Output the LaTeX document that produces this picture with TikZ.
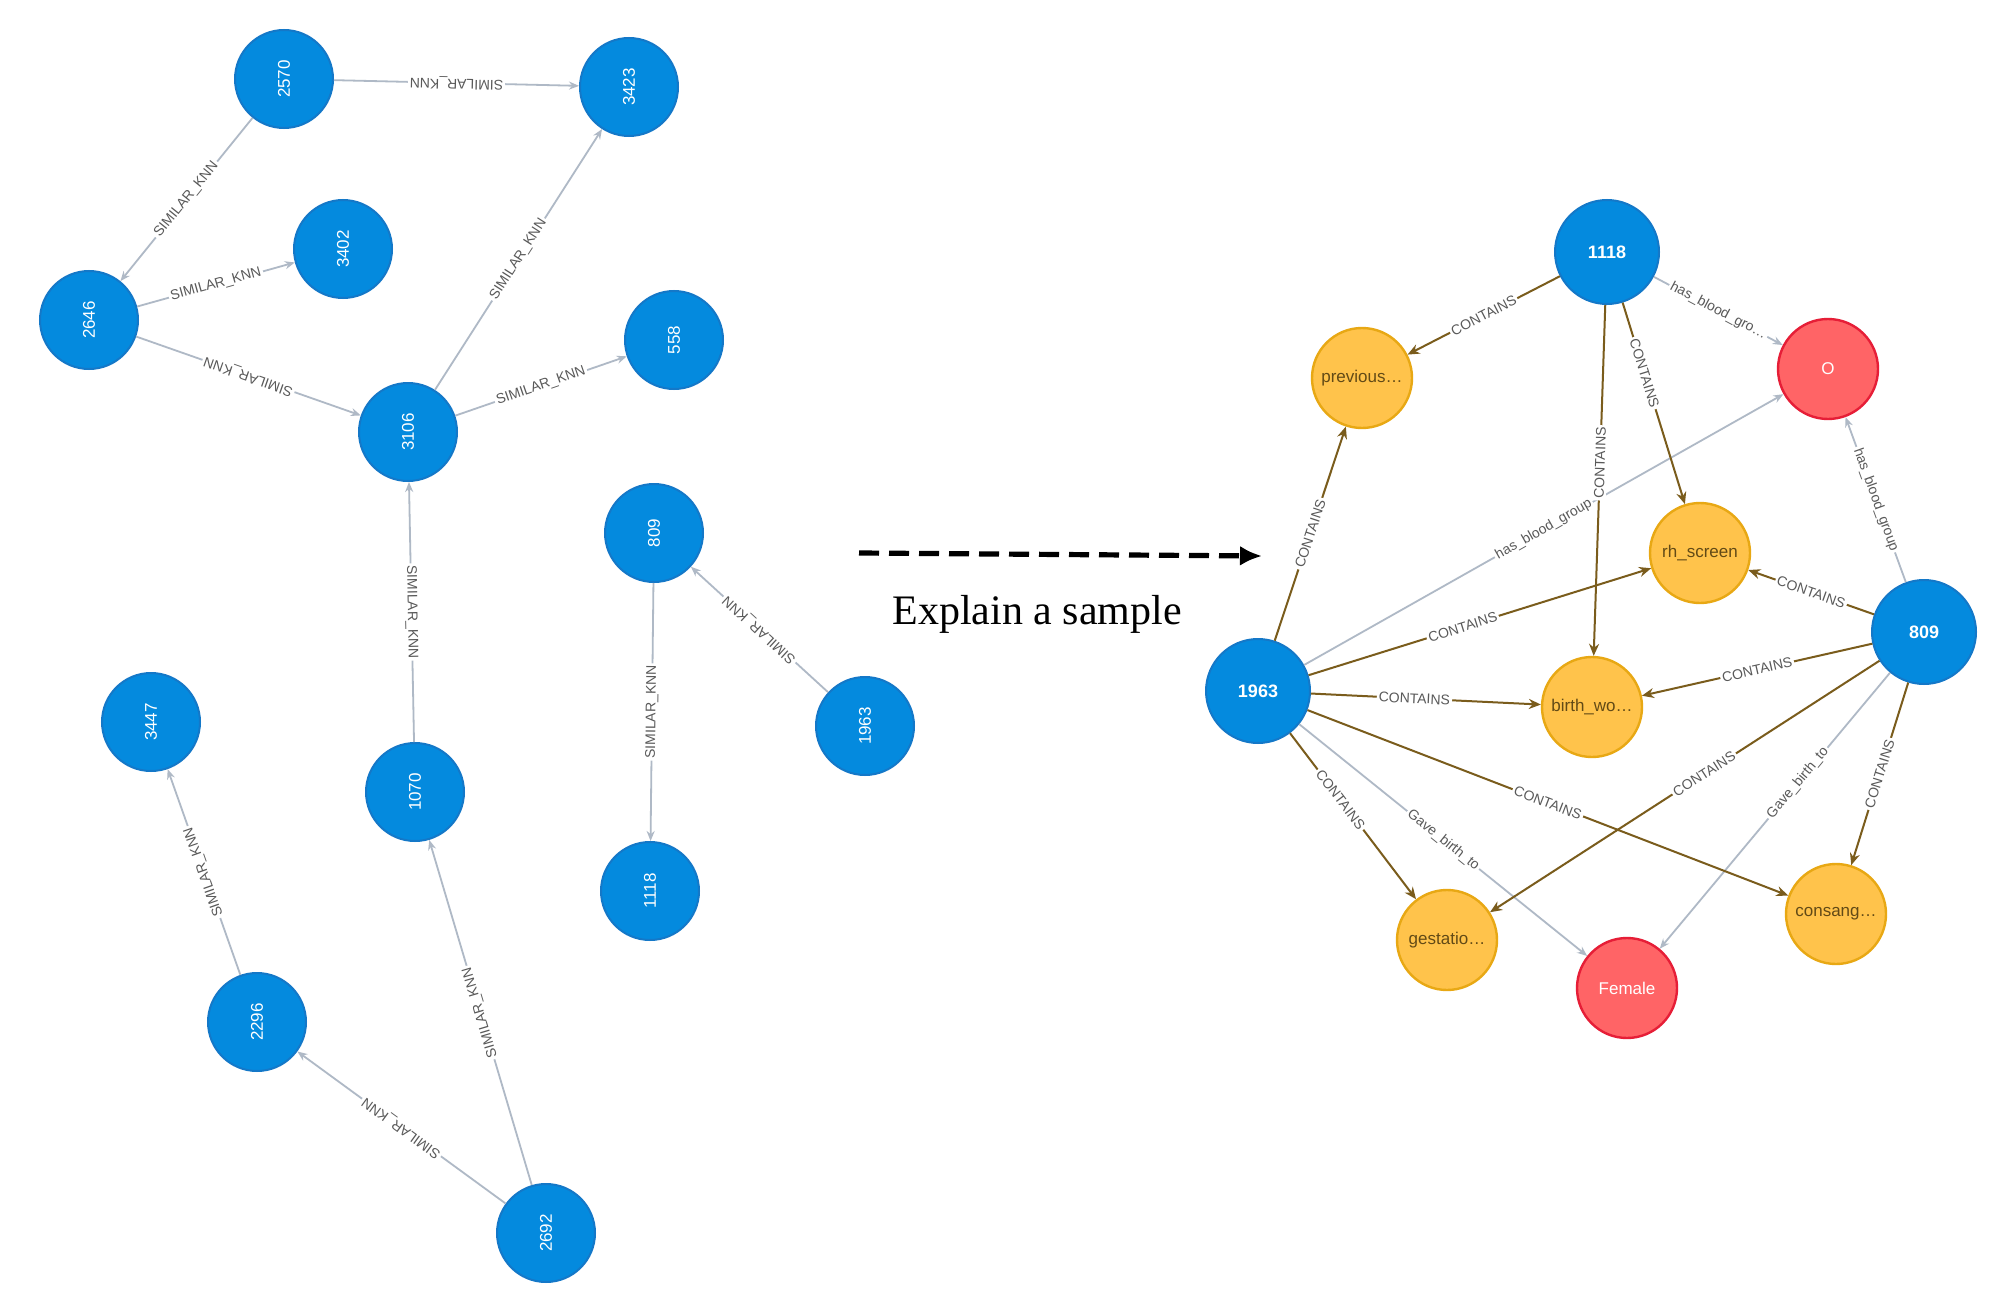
\documentclass[tikz,border=0pt]{standalone}
\usepackage{fontspec}
\setmainfont{Liberation Serif}
\newfontfamily\sfx{Liberation Sans}
\usetikzlibrary{arrows.meta}
\definecolor{nblue}{RGB}{4,138,222}
\definecolor{nbord}{RGB}{20,120,200}
\definecolor{ofill}{RGB}{255,195,75}
\definecolor{obord}{RGB}{232,168,20}
\definecolor{rfill}{RGB}{255,100,102}
\definecolor{rbord}{RGB}{230,30,55}
\definecolor{brn}{RGB}{122,92,28}
\definecolor{gry}{RGB}{175,185,198}
\begin{document}
\begin{tikzpicture}[x=0.5pt,y=-0.5pt,
 L/.style={circle,fill=nblue,draw=nbord,line width=1pt,minimum size=49pt,inner sep=0pt,text=white,font=\sfx\fontsize{8.5}{9}\selectfont,rotate=90},
 B/.style={circle,fill=nblue,draw=nbord,line width=1pt,minimum size=52pt,inner sep=0pt,text=white,font=\sfx\bfseries\fontsize{9}{10}\selectfont},
 O/.style={circle,fill=ofill,draw=obord,line width=1.2pt,minimum size=50pt,inner sep=0pt,text=brn!80!black,font=\sfx\fontsize{8.5}{9}\selectfont},
 R/.style={circle,fill=rfill,draw=rbord,line width=1.2pt,minimum size=50pt,inner sep=0pt,text=white,font=\sfx\fontsize{8.5}{9}\selectfont},
 ge/.style={draw=gry,line width=0.9pt,-{Stealth[length=5pt,width=4pt]}},
 be/.style={draw=brn,line width=1pt,-{Stealth[length=6pt,width=5pt]}},
 lb/.style={fill=white,inner sep=1pt,text=black!65,font=\sfx\fontsize{7}{8}\selectfont,sloped},
 ub/.style={lb,rotate=180}]
\useasboundingbox (0,0) rectangle (1993,1295);
\fill[white] (0,0) rectangle (1993,1295);
% left graph
\node[L] (a2570) at (284,79) {2570};
\node[L] (a3423) at (629,87) {3423};
\node[L] (a3402) at (343,249) {3402};
\node[L] (a2646) at (89,320) {2646};
\node[L] (a558) at (674,340) {558};
\node[L] (a3106) at (408,432) {3106};
\node[L] (a809) at (654,533) {809};
\node[L] (a1963) at (865,726) {1963};
\node[L] (a3447) at (151,722) {3447};
\node[L] (a1070) at (415,792) {1070};
\node[L] (a1118) at (650,891) {1118};
\node[L] (a2296) at (257,1022) {2296};
\node[L] (a2692) at (546,1233) {2692};
\draw[ge] (a2570) -- node[ub]{SIMILAR\_KNN} (a3423);
\draw[ge] (a2570) -- node[lb]{SIMILAR\_KNN} (a2646);
\draw[ge] (a2646) -- node[lb]{SIMILAR\_KNN} (a3402);
\draw[ge] (a2646) -- node[ub]{SIMILAR\_KNN} (a3106);
\draw[ge] (a3106) -- node[lb]{SIMILAR\_KNN} (a3423);
\draw[ge] (a3106) -- node[lb]{SIMILAR\_KNN} (a558);
\draw[ge] (a1070) -- node[lb]{SIMILAR\_KNN} (a3106);
\draw[ge] (a809) -- node[lb]{SIMILAR\_KNN} (a1118);
\draw[ge] (a1963) -- node[ub]{SIMILAR\_KNN} (a809);
\draw[ge] (a2296) -- node[ub]{SIMILAR\_KNN} (a3447);
\draw[ge] (a2692) -- node[ub]{SIMILAR\_KNN} (a2296);
\draw[ge] (a2692) -- node[ub]{SIMILAR\_KNN} (a1070);
% middle
\coordinate (s) at (859,553);
\coordinate (t) at (1262,556);
\draw[line width=2.6pt,dash pattern=on 10pt off 5pt,-{Latex[length=11pt,width=10pt]}] (s) -- (t);
\node[font=\fontsize{21}{24}\selectfont] (ex) at (1037,614) {Explain a sample};
% right graph
\node[B] (b1118) at (1607,252) {1118};
\node[B] (b1963) at (1258,691) {1963};
\node[B] (b809) at (1924,632) {809};
\node[R] (o) at (1828,369) {O};
\node[R] (fem) at (1627,988) {Female};
\node[O] (prev) at (1362,378) {previous\ldots};
\node[O] (rh) at (1700,553) {rh\_screen};
\node[O] (bw) at (1592,707) {birth\_wo\ldots};
\node[O] (gest) at (1447,940) {gestatio\ldots};
\node[O] (cons) at (1836,914) {consang\ldots};
\draw[ge] (b1963) -- node[lb,pos=0.5]{has\_blood\_group} (o);
\draw[ge] (b1118) -- node[lb]{has\_blood\_gro\ldots} (o);
\draw[ge] (b809) -- node[lb]{has\_blood\_group} (o);
\draw[ge] (b1963) -- node[lb]{Gave\_birth\_to} (fem);
\draw[ge] (b809) -- node[lb,pos=0.4]{Gave\_birth\_to} (fem);
\draw[be] (b1118) -- node[lb]{CONTAINS} (prev);
\draw[be] (b1118) -- node[lb,pos=0.35]{CONTAINS} (rh);
\draw[be] (b1118) -- node[lb,pos=0.45]{CONTAINS} (bw);
\draw[be] (b1963) -- node[lb]{CONTAINS} (prev);
\draw[be] (b1963) -- node[lb,pos=0.45]{CONTAINS} (rh);
\draw[be] (b1963) -- node[lb,pos=0.45]{CONTAINS} (bw);
\draw[be] (b1963) -- node[lb,pos=0.4]{CONTAINS} (gest);
\draw[be] (b1963) -- node[lb,pos=0.5]{CONTAINS} (cons);
\draw[be] (b809) -- node[lb]{CONTAINS} (rh);
\draw[be] (b809) -- node[lb]{CONTAINS} (bw);
\draw[be] (b809) -- node[lb,pos=0.45]{CONTAINS} (gest);
\draw[be] (b809) -- node[lb]{CONTAINS} (cons);
\end{tikzpicture}
\end{document}
